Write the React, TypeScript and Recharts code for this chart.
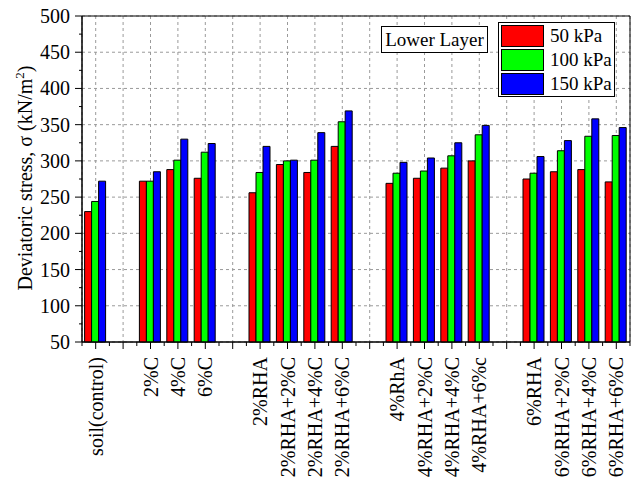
import React from 'react';
import { BarChart, Bar, XAxis, YAxis, CartesianGrid, ReferenceArea } from 'recharts';

const categories = [
  'soil(control)', '', '2%C', '4%C', '6%C', '',
  '2%RHA', '2%RHA+2%C', '2%RHA+4%C', '2%RHA+6%C', '',
  '4%RhA', '4%RHA+2%C', '4%RHA+4%C', '4%RHA+6%c', '',
  '6%RHA', '6%RHA+2%C', '6%RHA+4%C', '6%RHA+6%C',
];
const p50 = [230, null, 272, 288, 276, null, 256, 295, 284, 320, null, 269, 276, 290, 300, null, 275, 285, 288, 271];
const p100 = [244, null, 272, 301, 312, null, 284, 300, 301, 354, null, 283, 286, 307, 336, null, 283, 314, 334, 335];
const p150 = [272, null, 285, 330, 324, null, 320, 301, 339, 369, null, 298, 304, 325, 349, null, 306, 328, 358, 346];
const seriesNames = ['50 kPa', '100 kPa', '150 kPa'];
const seriesColors = ['#ff0000', '#00ff00', '#0000ff'];
const yTicks = [50, 100, 150, 200, 250, 300, 350, 400, 450, 500];

const W = 633;
const H = 484;
const M = { top: 16, right: 3, bottom: 0, left: 0 };
const YW = 82;
const XH = 142;
const PLOT_W = W - M.left - M.right - YW;
const PLOT_H = H - M.top - M.bottom - XH;
const HALF_BAND = PLOT_W / categories.length / 2;
const Y_STEP = PLOT_H / (yTicks.length - 1);
const FONT = '"Liberation Serif", "Times New Roman", serif';

const data = categories.map((c, i) => ({
  id: `c${i}`,
  label: c,
  p50: p50[i],
  p100: p100[i],
  p150: p150[i],
}));
const labelById: Record<string, string> = {};
data.forEach((d) => { labelById[d.id] = d.label; });

const XT_SIZE = 7;
const XT_MARGIN = 2;
const XTick = (props: any) => {
  const { x, y, payload, index } = props;
  const label = labelById[payload.value] || '';
  const axisOff = -(XT_SIZE + XT_MARGIN);
  return (
    <g transform={`translate(${x},${y})`}>
      <line x1={HALF_BAND} x2={HALF_BAND} y1={axisOff} y2={axisOff + 4} stroke="#000" />
      {index === 0 && <line x1={-HALF_BAND} x2={-HALF_BAND} y1={axisOff} y2={axisOff + 4} stroke="#000" />}
      <text transform="rotate(-90)" x={-6} y={0} dy="0.35em" textAnchor="end" fontSize={20} fontFamily={FONT} fill="#000">
        {label}
      </text>
    </g>
  );
};

const YT_SIZE = 7;
const YT_MARGIN = 5;
const YTick = (props: any) => {
  const { x, y, payload } = props;
  const axisX = x + YT_SIZE + YT_MARGIN;
  return (
    <g>
      {payload.value < 500 && (
        <line x1={axisX - 3} x2={axisX} y1={y - Y_STEP / 2} y2={y - Y_STEP / 2} stroke="#000" />
      )}
      <text x={x} y={y} dy="0.35em" textAnchor="end" fontSize={20} fontFamily={FONT} fill="#000">
        {payload.value}
      </text>
    </g>
  );
};

const YLabel = () => (
  <text
    x={32}
    y={178}
    transform="rotate(-90, 32, 178)"
    textAnchor="middle"
    fontSize={20}
    fontFamily={FONT}
    fill="#000"
  >
    Deviatoric stress, σ (kN/m
    <tspan fontSize={13} dy={-8}>2</tspan>
    <tspan dy={8}>)</tspan>
  </text>
);

export default function App() {
  return (
    <div style={{ position: 'absolute', left: 0, top: 0, width: W, height: H, background: '#fff', fontFamily: FONT }}>
      <BarChart width={W} height={H} data={data} margin={M} barCategoryGap="9.5%" barGap={0}>
        <CartesianGrid stroke="#9a9a9a" strokeDasharray="3 3" />
        <XAxis
          dataKey="id"
          height={XH}
          interval={0}
          tick={<XTick />}
          tickSize={XT_SIZE}
          tickMargin={XT_MARGIN}
          axisLine={{ stroke: '#000' }}
          tickLine={{ stroke: '#000' }}
        />
        <YAxis
          width={YW}
          domain={[50, 500]}
          ticks={yTicks}
          interval={0}
          tick={<YTick />}
          tickSize={YT_SIZE}
          tickMargin={YT_MARGIN}
          axisLine={{ stroke: '#000' }}
          tickLine={{ stroke: '#000' }}
          label={{ content: <YLabel /> }}
        />
        <Bar dataKey="p50" name={seriesNames[0]} fill={seriesColors[0]} stroke="#000" strokeWidth={1} isAnimationActive={false} />
        <Bar dataKey="p100" name={seriesNames[1]} fill={seriesColors[1]} stroke="#000" strokeWidth={1} isAnimationActive={false} />
        <Bar dataKey="p150" name={seriesNames[2]} fill={seriesColors[2]} stroke="#000" strokeWidth={1} isAnimationActive={false} />
        <ReferenceArea y1={50} y2={500} fill="none" stroke="#000" strokeWidth={1} ifOverflow="visible" />
      </BarChart>
      <div
        style={{
          position: 'absolute', left: 381, top: 26, width: 105, height: 25,
          border: '1px solid #000', background: '#fff', fontSize: 19,
          lineHeight: '25px', textAlign: 'center', color: '#000',
        }}
      >
        Lower Layer
      </div>
      <div
        style={{
          position: 'absolute', left: 498, top: 22, width: 115, height: 73,
          border: '1px solid #000', background: '#fff',
        }}
      >
        {seriesNames.map((n, i) => (
          <div key={n} style={{ position: 'absolute', left: 2, top: 2 + i * 24, height: 22, width: 112 }}>
            <div
              style={{
                position: 'absolute', left: 0, top: 0, width: 41, height: 20,
                background: seriesColors[i], border: '1px solid #000',
              }}
            />
            <div style={{ position: 'absolute', left: 49, top: 0, fontSize: 19, lineHeight: '22px', color: '#000', whiteSpace: 'nowrap' }}>
              {n}
            </div>
          </div>
        ))}
      </div>
    </div>
  );
}
